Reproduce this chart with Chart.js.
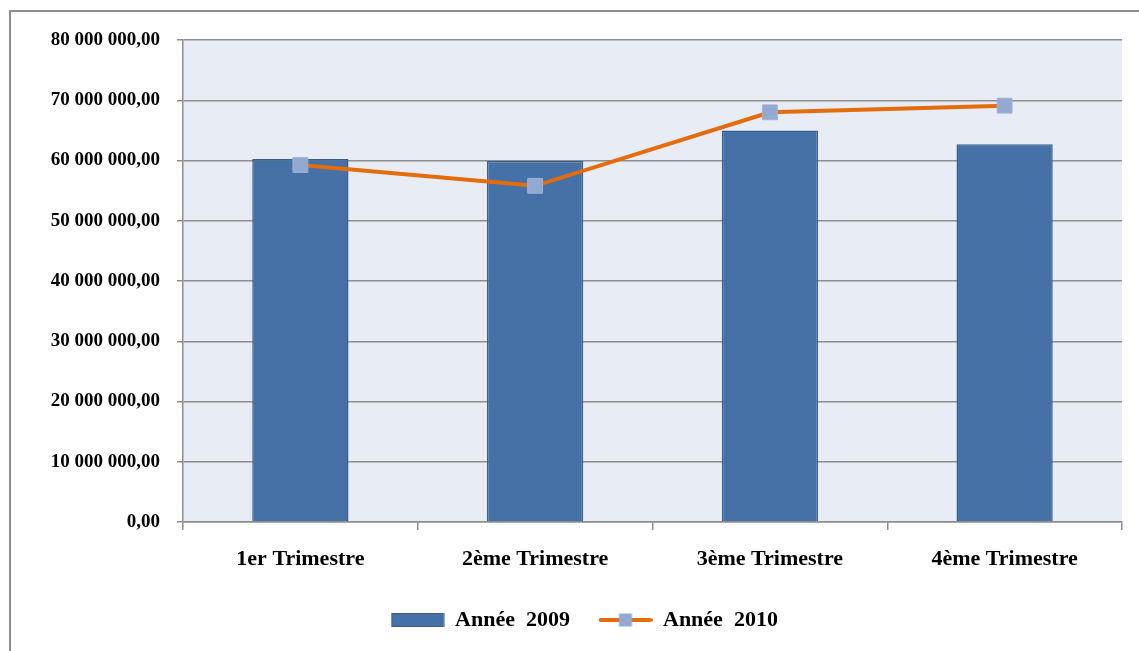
<!DOCTYPE html>
<html>
<head>
<meta charset="utf-8">
<script src="https://cdn.jsdelivr.net/npm/chart.js@4/dist/chart.umd.min.js"></script>
<style>
  html, body { margin: 0; padding: 0; background: #fff; overflow: hidden; }
  #frame { position: absolute; left: 9px; top: 10px; width: 1200px; height: 700px;
           border-left: 2px solid #8e8e8e; border-top: 2px solid #8e8e8e; }
  #wrap { position: absolute; left: 0; top: 0; width: 1139px; height: 651px; }
</style>
</head>
<body>
<div id="frame"></div>
<div id="wrap"><canvas id="chart"></canvas></div>
<script>
// données
const trimestres = ['1er Trimestre', '2ème Trimestre', '3ème Trimestre', '4ème Trimestre'];
const annee2009 = [60250000, 59900000, 65000000, 62700000];
const annee2010 = [59250000, 55800000, 68000000, 69100000];
const legendLabels = ['Année  2009', 'Année  2010'];
const yMax = 80000000;
const yStep = 10000000;

const BAR = '#4571a6';
const BAR_EDGE = '#3a5f8e';
const LINE = '#e46c0a';
const MARKER = '#93a9d2';
const GRID = '#8e8e8e';
const FONT = '"Liberation Serif", "Times New Roman", serif';

// 10000000 -> "10 000 000,00"
function fmt(v) {
    const s = Math.round(v).toString().replace(/\B(?=(\d{3})+(?!\d))/g, ' ');
    return s + ',00';
}

function swatch(kind) {
    const c = document.createElement('canvas');
    c.width = 54; c.height = 16;
    const g = c.getContext('2d');
    if (kind === 'bar') {
        g.fillStyle = BAR;
        g.fillRect(1, 1.5, 52, 13);
        g.strokeStyle = BAR_EDGE; g.lineWidth = 1;
        g.strokeRect(1, 1.5, 52, 13);
    } else {
        g.strokeStyle = LINE; g.lineWidth = 4; g.lineCap = 'round';
        g.beginPath(); g.moveTo(2, 8); g.lineTo(52, 8); g.stroke();
        g.fillStyle = MARKER;
        g.fillRect(20.5, 1.5, 13, 13);
    }
    return c;
}

const plotBg = {
    id: 'plotBg',
    beforeDraw(chart) {
        const { ctx, chartArea: a } = chart;
        ctx.save();
        ctx.fillStyle = '#e8ecf4';
        ctx.fillRect(a.left, a.top, a.right - a.left, a.bottom - a.top);
        ctx.restore();
    }
};

new Chart(document.getElementById('chart'), {
    data: {
        labels: trimestres,
        datasets: [
            { type: 'bar', label: legendLabels[0], data: annee2009, backgroundColor: BAR,
              borderColor: BAR_EDGE, borderWidth: 1.5, barPercentage: 0.82, categoryPercentage: 0.5, order: 1 },
            { type: 'line', label: legendLabels[1], data: annee2010, borderColor: LINE, borderWidth: 4,
              pointStyle: 'rect', pointRadius: 10.5, pointBackgroundColor: MARKER,
              pointBorderColor: '#9db2d8', pointBorderWidth: 1, tension: 0, order: 0 }
        ]
    },
    options: {
        responsive: true, maintainAspectRatio: false, animation: false,
        // left padding shifts the centred legend to where the original has it
        layout: { padding: { top: 40, right: 17, bottom: 10, left: 47 } },
        plugins: {
            tooltip: { enabled: false },
            legend: {
                position: 'bottom',
                labels: {
                    usePointStyle: true, pointStyleWidth: 53, padding: 29, color: '#000',
                    font: { family: FONT, size: 22, weight: 'bold' },
                    generateLabels: () => [
                        { text: legendLabels[0], pointStyle: swatch('bar'), datasetIndex: 0, lineWidth: 0 },
                        { text: legendLabels[1], pointStyle: swatch('line'), datasetIndex: 1, lineWidth: 0 }
                    ]
                }
            }
        },
        scales: {
            x: {
                afterFit: s => { s.height = 58; },
                grid: { drawOnChartArea: false, offset: true, tickLength: 8, color: GRID, lineWidth: 1.5 },
                border: { color: GRID, width: 1.5 },
                ticks: { color: '#000', padding: 16, font: { family: FONT, size: 22, weight: 'bold' } }
            },
            y: {
                min: 0, max: yMax,
                afterFit: s => { s.width = 136; },
                grid: { color: GRID, lineWidth: 1.5, tickLength: 6 },
                border: { color: GRID, width: 1.5 },
                ticks: { stepSize: yStep, color: '#000', padding: 17, callback: v => fmt(v),
                         font: { family: FONT, size: 19, weight: 'bold' } }
            }
        }
    },
    plugins: [plotBg]
});
</script>
</body>
</html>
